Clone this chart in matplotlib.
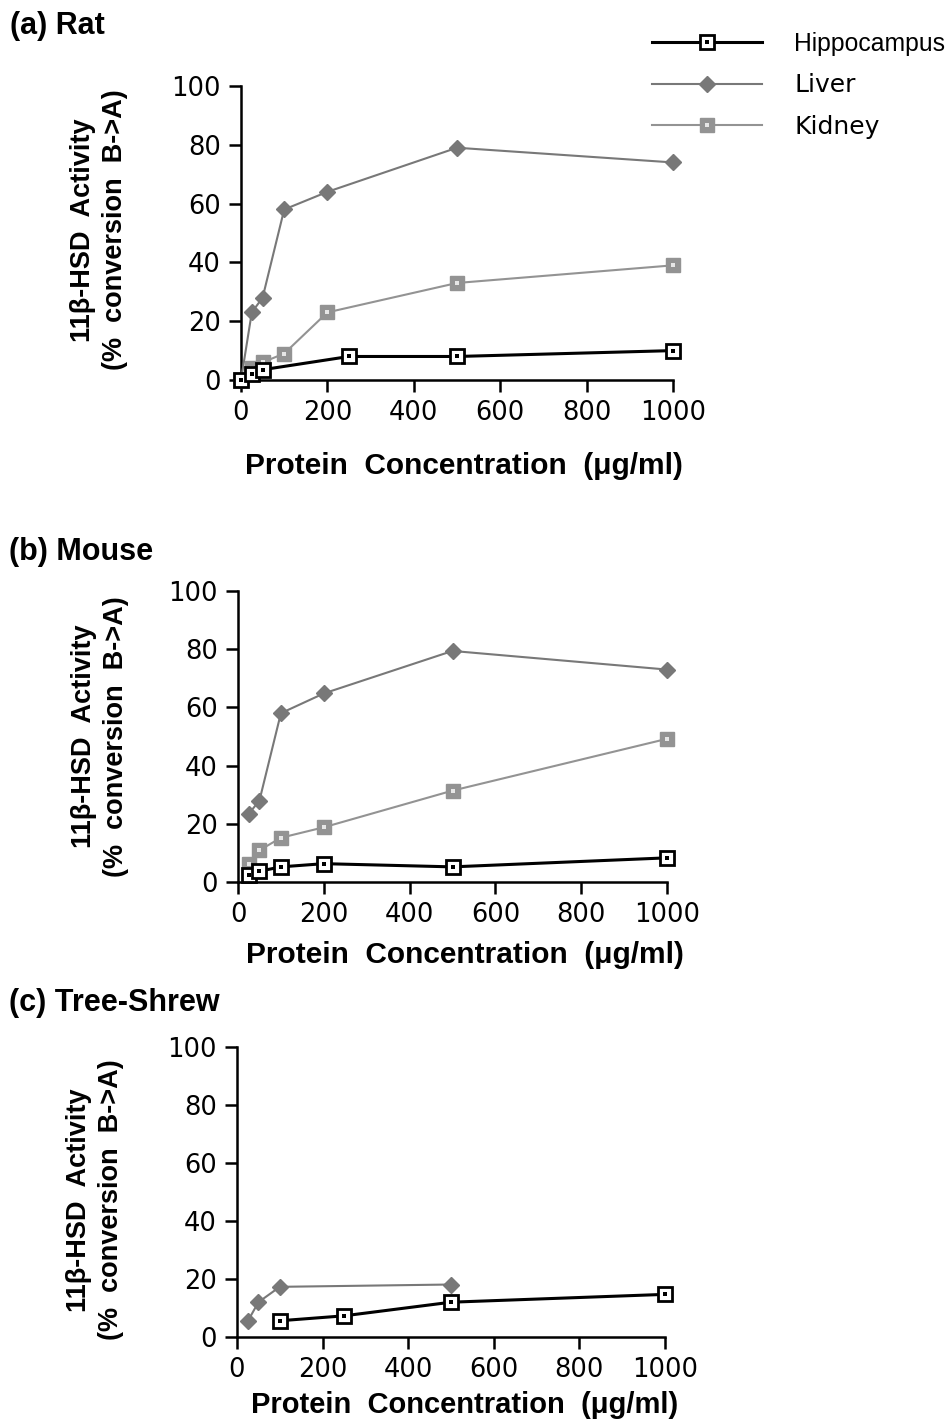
import matplotlib
matplotlib.use("Agg")
import matplotlib.pyplot as plt
from matplotlib.lines import Line2D
from matplotlib.legend_handler import HandlerTuple

# ---------------- data ----------------
panel_titles = ["(a) Rat", "(b) Mouse", "(c) Tree-Shrew"]
series_names = ["Hippocampus", "Liver", "Kidney"]

rat_hippo_x = [0, 25, 50, 250, 500, 1000]
rat_hippo_y = [0, 2, 3.5, 8, 8, 10]
rat_liver_x = [0, 25, 50, 100, 200, 500, 1000]
rat_liver_y = [0, 23, 28, 58, 64, 79, 74]
rat_kidney_x = [0, 25, 50, 100, 200, 500, 1000]
rat_kidney_y = [0, 4, 6, 9, 23, 33, 39]

mouse_hippo_x = [25, 50, 100, 200, 500, 1000]
mouse_hippo_y = [2.5, 3.7, 5.2, 6.3, 5.2, 8.3]
mouse_liver_x = [25, 50, 100, 200, 500, 1000]
mouse_liver_y = [23.4, 28, 58, 64.8, 79.4, 73]
mouse_kidney_x = [25, 50, 100, 200, 500, 1000]
mouse_kidney_y = [6.3, 10.9, 15.2, 18.8, 31.4, 49.2]

shrew_hippo_x = [100, 250, 500, 1000]
shrew_hippo_y = [5.6, 7.3, 12, 14.7]
shrew_liver_x = [25, 50, 100, 500]
shrew_liver_y = [5.4, 12, 17.3, 18.1]

x_ticks = [0, 200, 400, 600, 800, 1000]
y_ticks = [0, 20, 40, 60, 80, 100]
xlabel = "Protein  Concentration  (\u03bcg/ml)"
ylabel = "11\u03b2-HSD  Activity\n(%  conversion  B->A)"

# ---------------- style ----------------
W, H = 950, 1424
fig = plt.figure(figsize=(W / 100, H / 100), dpi=100)

LIVER_C = "#787878"
KIDNEY_C = "#939393"
BOLD = "Liberation Sans"
TICKFONT = "DejaVu Sans"

hippo_kw = dict(color="black", lw=2.2, marker="s", ms=10, mfc="white",
                mec="black", mew=2.0, zorder=5, clip_on=False)
hippo_dot_kw = dict(ls="none", marker="s", ms=2.2, mfc="black", mec="black",
                    mew=0, zorder=6, clip_on=False)
liver_kw = dict(color=LIVER_C, lw=1.5, marker="D", ms=8.5, mfc=LIVER_C,
                mec=LIVER_C, zorder=4, clip_on=False)
kidney_kw = dict(color=KIDNEY_C, lw=1.5, marker="s", ms=10, mfc=KIDNEY_C,
                 mec=KIDNEY_C, zorder=3, clip_on=False)
kidney_dot_kw = dict(ls="none", marker="s", ms=2.2, mfc="#e6e6e6", mec="#e6e6e6",
                     mew=0, zorder=3.5, clip_on=False)

# axes pixel boxes: left, top, right, bottom
boxes = [(241, 86, 673, 380), (238, 591, 667, 882), (237, 1047, 665, 1337)]
title_pos = [(10, 26), (9, 552), (9, 1003)]
xlab_pos = [(0.515, -0.293), (0.53, -0.251), (0.533, -0.233)]
ylab_pos = [(-0.329, 0.51), (-0.322, 0.50), (-0.332, 0.472)]

data = [
    [(rat_kidney_x, rat_kidney_y), (rat_liver_x, rat_liver_y), (rat_hippo_x, rat_hippo_y)],
    [(mouse_kidney_x, mouse_kidney_y), (mouse_liver_x, mouse_liver_y), (mouse_hippo_x, mouse_hippo_y)],
    [None, (shrew_liver_x, shrew_liver_y), (shrew_hippo_x, shrew_hippo_y)],
]

axes = []
for i, (l, t, r, b) in enumerate(boxes):
    ax = fig.add_axes([l / W, 1 - b / H, (r - l) / W, (b - t) / H])
    axes.append(ax)
    kid, liv, hip = data[i]
    if kid is not None:
        ax.plot(kid[0], kid[1], **kidney_kw)
        ax.plot(kid[0], kid[1], **kidney_dot_kw)
    if liv is not None:
        ax.plot(liv[0], liv[1], **liver_kw)
    if hip is not None:
        ax.plot(hip[0], hip[1], **hippo_kw)
        ax.plot(hip[0], hip[1], **hippo_dot_kw)

    ax.set_xlim(0, 1000)
    ax.set_ylim(0, 100)
    ax.set_xticks(x_ticks)
    ax.set_yticks(y_ticks)
    for s in ["top", "right"]:
        ax.spines[s].set_visible(False)
    for s in ["left", "bottom"]:
        ax.spines[s].set_linewidth(1.8)
    ax.tick_params(axis="both", direction="out", length=8.5, width=1.8,
                   labelsize=18.5, pad=6)
    for lab in ax.get_xticklabels() + ax.get_yticklabels():
        lab.set_family(TICKFONT)

    ax.set_xlabel(xlabel, fontsize=21.5 if i < 2 else 21, fontweight="bold",
                  family=BOLD)
    ax.xaxis.set_label_coords(*xlab_pos[i])
    ax.xaxis.label.set_va("center")
    ax.set_ylabel(ylabel, fontsize=19.5, fontweight="bold", family=BOLD,
                  linespacing=1.3)
    ax.yaxis.set_label_coords(*ylab_pos[i])
    ax.yaxis.label.set_va("center")

    tx, ty = title_pos[i]
    fig.text(tx / W, 1 - ty / H, panel_titles[i], fontsize=22, fontweight="bold",
             family=BOLD, ha="left", va="center")

# ---------------- legend ----------------
h_hip = (Line2D([], [], **hippo_kw), Line2D([], [], **hippo_dot_kw))
h_liv = Line2D([], [], **liver_kw)
h_kid = (Line2D([], [], **kidney_kw), Line2D([], [], **kidney_dot_kw))
leg = fig.legend([h_hip, h_liv, h_kid], series_names,
                 handler_map={tuple: HandlerTuple(ndivide=1)},
                 loc="upper left", bbox_to_anchor=(652 / W, 1 - 32 / H),
                 frameon=False, fontsize=18, handlelength=4.4,
                 handletextpad=1.3, labelspacing=0.7, borderpad=0,
                 borderaxespad=0, numpoints=1)
for txt in leg.get_texts():
    txt.set_family(TICKFONT)
leg.get_texts()[0].set_family("Liberation Sans")
leg.get_texts()[0].set_fontsize(17.8)

fig.savefig("out.png", dpi=100)
